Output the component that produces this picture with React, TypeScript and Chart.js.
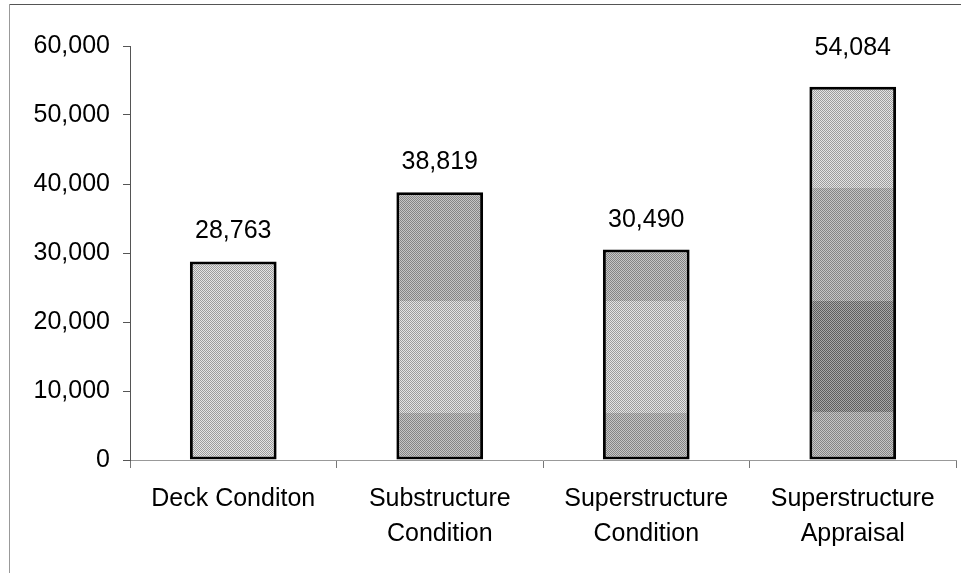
import React, { useEffect, useRef } from "react";
import { Chart, registerables } from "chart.js";

Chart.register(...registerables);

// Category labels (multi-line where the axis wraps them)
const categories: (string | string[])[] = [
  "Deck Conditon",
  ["Substructure", "Condition"],
  ["Superstructure", "Condition"],
  ["Superstructure", "Appraisal"],
];

// Bridge counts per rating item
const counts: number[] = [28763, 38819, 30490, 54084];

// Y axis range and step
const yMin = 0;
const yMax = 60000;
const yStep = 10000;

// Gap in px between bar top and the centre of its value label
const labelLift: number[] = [30, 30, 30, 39];

// Dithered fill shades: [dark dot, light dot]
const SHADES: Record<string, [string, string]> = {
  L: ["#9c9c9c", "#e4e4e4"],
  M: ["#858585", "#c6c6c6"],
  D: ["#5e5e5e", "#a8a8a8"],
};

// Shade bands per bar, listed bottom-up as [upper value bound, shade key]
const shadeBands: [number, string][][] = [
  [[Infinity, "L"]],
  [[6800, "M"], [23000, "L"], [Infinity, "M"]],
  [[6800, "M"], [23000, "L"], [Infinity, "M"]],
  [[7000, "M"], [23000, "D"], [39400, "M"], [Infinity, "L"]],
];

const FONT = "'Liberation Sans', Arial, sans-serif";
const FONT_SIZE = 25;

function makePattern(chart: any, index: number): CanvasPattern | string {
  const yScale = chart.scales?.y;
  if (!yScale || !chart.chartArea) return SHADES.L[1];
  const h = chart.height;
  const c = document.createElement("canvas");
  c.width = 2;
  c.height = h;
  const g = c.getContext("2d")!;
  const bands = shadeBands[index];
  for (let row = 0; row < h; row++) {
    const v = yScale.getValueForPixel(row + 0.5);
    let key = bands[bands.length - 1][1];
    for (const [upper, k] of bands) {
      if (v < upper) {
        key = k;
        break;
      }
    }
    const [dark, light] = SHADES[key];
    for (let col = 0; col < 2; col++) {
      g.fillStyle = (row + col) % 2 === 0 ? dark : light;
      g.fillRect(col, row, 1, 1);
    }
  }
  return chart.ctx.createPattern(c, "repeat")!;
}

const valueLabels = {
  id: "valueLabels",
  afterDatasetsDraw(chart: any) {
    const ctx = chart.ctx;
    const meta = chart.getDatasetMeta(0);
    ctx.save();
    ctx.font = `${FONT_SIZE}px ${FONT}`;
    ctx.fillStyle = "#000";
    ctx.textAlign = "center";
    ctx.textBaseline = "middle";
    meta.data.forEach((bar: any, i: number) => {
      ctx.fillText(counts[i].toLocaleString("en-US"), bar.x, bar.y - labelLift[i]);
    });
    ctx.restore();
  },
};

export default function App() {
  const ref = useRef<HTMLCanvasElement>(null);

  useEffect(() => {
    if (!ref.current) return;
    const chart = new Chart(ref.current, {
      type: "bar",
      data: {
        labels: categories,
        datasets: [
          {
            data: counts,
            backgroundColor: (ctx: any) => makePattern(ctx.chart, ctx.dataIndex),
            borderColor: "#000",
            borderWidth: 3,
            borderSkipped: false,
            barPercentage: 0.42,
            categoryPercentage: 1,
          },
        ],
      },
      options: {
        responsive: false,
        animation: false,
        events: [],
        layout: { padding: { top: 46, right: 5, left: 0, bottom: 0 } },
        plugins: {
          legend: { display: false },
          tooltip: { enabled: false },
        },
        scales: {
          x: {
            offset: true,
            grid: {
              offset: true,
              drawOnChartArea: false,
              drawTicks: true,
              tickLength: 8,
              color: "#777",
            },
            border: { color: "#999", width: 1 },
            ticks: {
              color: "#000",
              padding: 14,
              font: { family: FONT, size: FONT_SIZE, lineHeight: 1.4 },
              maxRotation: 0,
              autoSkip: false,
            },
            afterFit: (s: any) => {
              s.height = 573 - 460;
            },
          },
          y: {
            min: yMin,
            max: yMax,
            grid: {
              drawOnChartArea: false,
              drawTicks: true,
              tickLength: 7,
              color: "#555",
            },
            border: { color: "#555", width: 1 },
            ticks: {
              stepSize: yStep,
              color: "#000",
              padding: 13,
              font: { family: FONT, size: FONT_SIZE },
              callback: (v: any) => Number(v).toLocaleString("en-US"),
            },
            afterFit: (s: any) => {
              s.width = 130;
            },
          },
        },
      },
      plugins: [valueLabels],
    });
    return () => chart.destroy();
  }, []);

  return (
    <div
      style={{
        position: "fixed",
        left: 0,
        top: 0,
        width: 961,
        height: 573,
        background: "#fff",
      }}
    >
      <canvas ref={ref} width={961} height={573} style={{ display: "block" }} />
      <div
        style={{
          position: "absolute",
          left: 9,
          top: 4,
          right: 0,
          height: 1,
          background: "#555",
        }}
      />
      <div
        style={{
          position: "absolute",
          left: 9,
          top: 4,
          bottom: 0,
          width: 1,
          background: "#999",
        }}
      />
    </div>
  );
}
